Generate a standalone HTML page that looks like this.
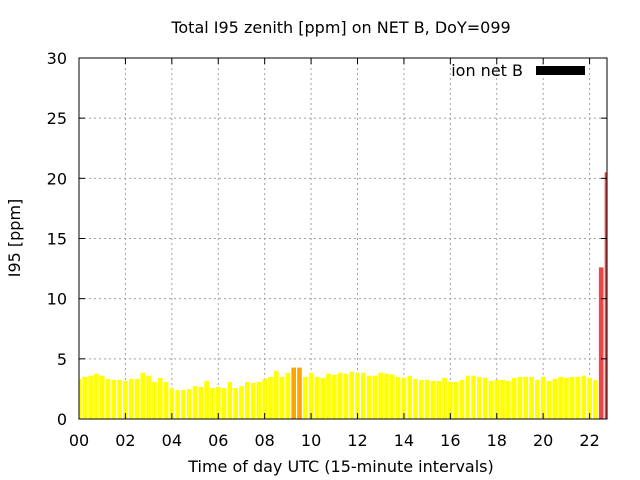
<!DOCTYPE html>
<html><head><meta charset="utf-8"><style>
body{margin:0;background:#fff}
svg{display:block;font-family:"DejaVu Sans","Liberation Sans",sans-serif}
</style></head><body>
<svg id="chart" width="640" height="480">
<text x="341" y="33" text-anchor="middle" font-size="16">Total I95 zenith [ppm] on NET B, DoY=099</text>
<text transform="translate(20,238) rotate(-90)" text-anchor="middle" font-size="16">I95 [ppm]</text>
<text x="341" y="472" text-anchor="middle" font-size="16">Time of day UTC (15-minute intervals)</text>
<g id="grid"></g><g id="bars"></g><g id="ticks"></g>
<rect x="79" y="58" width="528" height="361" fill="none" stroke="#000" stroke-width="1"/>
<text x="523" y="76" text-anchor="end" font-size="16">ion net B</text>
<rect x="536" y="66" width="49" height="9" fill="#000"/>
</svg>
<script>
const values=[3.33,3.5,3.6,3.76,3.6,3.33,3.25,3.25,3.16,3.33,3.33,3.84,3.6,3.08,3.42,3.08,2.54,2.4,2.4,2.49,2.74,2.66,3.16,2.57,2.66,2.57,3.08,2.57,2.74,3.08,3.0,3.08,3.33,3.5,4.0,3.5,3.84,4.27,4.27,3.5,3.84,3.5,3.42,3.76,3.67,3.84,3.76,3.93,3.84,3.84,3.6,3.6,3.84,3.76,3.7,3.5,3.42,3.6,3.33,3.25,3.25,3.16,3.16,3.42,3.08,3.08,3.25,3.6,3.6,3.5,3.42,3.16,3.25,3.25,3.16,3.42,3.5,3.5,3.5,3.25,3.5,3.16,3.33,3.5,3.42,3.5,3.5,3.6,3.42,3.25,12.6,20.5];
const yTicks=[0,5,10,15,20,25,30];
const xTicks=[0,2,4,6,8,10,12,14,16,18,20,22];
const xTickLabels=["00","02","04","06","08","10","12","14","16","18","20","22"];
const L=79,R=607,T=58,B=419,XMAX=22.75,YMAX=30;
const X=h=>L+(h/XMAX)*(R-L);
const Y=v=>B-(v/YMAX)*(B-T);
const NS="http://www.w3.org/2000/svg";
const mk=(t,a,p)=>{const e=document.createElementNS(NS,t);for(const k in a)e.setAttribute(k,a[k]);p.appendChild(e);return e;};
const grid=document.getElementById('grid'),ticks=document.getElementById('ticks'),bars=document.getElementById('bars');
yTicks.forEach(v=>{
 if(v>0&&v<YMAX){const g=mk('line',{x1:L,x2:R,y1:Y(v),y2:Y(v),stroke:'#a0a0a0','stroke-dasharray':'2,3'},grid);
 
 }
 const t=mk('text',{x:L-12,y:Y(v)+6,'text-anchor':'end','font-size':'16'},ticks);t.textContent=v;
 
 
 mk('line',{x1:L,x2:L+6,y1:Y(v),y2:Y(v),stroke:'#000'},ticks);
 mk('line',{x1:R-6,x2:R,y1:Y(v),y2:Y(v),stroke:'#000'},ticks);
});
xTicks.forEach((h,i)=>{
 if(h>0){const g=mk('line',{x1:X(h),x2:X(h),y1:T,y2:B,stroke:'#a0a0a0','stroke-dasharray':'2,3'},grid);
 
 }
 const t=mk('text',{x:X(h),y:B+27,'text-anchor':'middle','font-size':'16'},ticks);t.textContent=xTickLabels[i];
 
 
 mk('line',{x1:X(h),x2:X(h),y1:B,y2:B-6,stroke:'#000'},ticks);
 mk('line',{x1:X(h),x2:X(h),y1:T,y2:T+6,stroke:'#000'},ticks);
});
const bw=(R-L)/XMAX*0.2;
values.forEach((v,i)=>{
 const cx=X(i*0.25);let x0=Math.max(L,cx-bw/2),x1=Math.min(R,cx+bw/2);
 if(x1<=x0)return;
 const c=v>=10?'#e84848':(v>4.1?'#ffa500':'#ffff00');
 const r=mk('rect',{x:x0,y:Y(v),width:x1-x0,height:B-Y(v),fill:c},bars);
 
 
});
</script>
</body></html>
